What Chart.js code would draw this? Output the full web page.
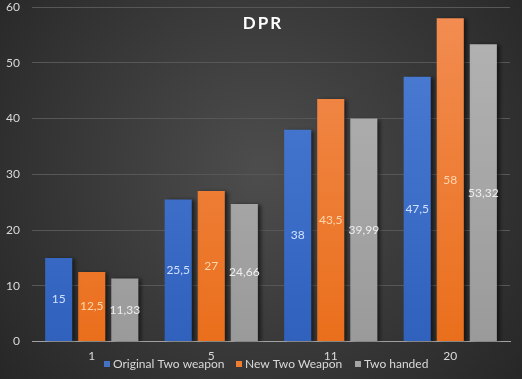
<!DOCTYPE html>
<html><head><meta charset="utf-8">
<script src="https://cdn.jsdelivr.net/npm/chart.js@4/dist/chart.umd.min.js"></script>
<style>html,body{margin:0;padding:0;background:#2a2a2a}#wrap{width:522px;height:379px;position:relative}</style>
</head><body><div id="wrap"><canvas id="c" width="522" height="379"></canvas></div>
<script>
const categories = ['1', '5', '11', '20'];
const originalTwoWeapon = [15, 25.5, 38, 47.5];
const newTwoWeapon = [12.5, 27, 43.5, 58];
const twoHanded = [11.33, 24.66, 39.99, 53.32];
const seriesNames = ['Original Two weapon', 'New Two Weapon', 'Two handed'];
const yTicks = [0, 10, 20, 30, 40, 50, 60];

const FONT = 'Lato, "Open Sans", sans-serif';
const palette = [
  {top:'#4f7fd6', bottom:'#2f61bd', key:'#4472c4', label:'#cfe0ff'},
  {top:'#f28d52', bottom:'#ea6f1c', key:'#ed7d31', label:'#ffd6ae'},
  {top:'#b4b4b4', bottom:'#9a9a9a', key:'#a5a5a5', label:'#eeeeee'}
];
function grad(i){
  return (ctx) => {
    const ch = ctx.chart, a = ch.chartArea;
    if (!a) return palette[i].key;
    const g = ch.ctx.createLinearGradient(0, a.top, 0, a.bottom);
    g.addColorStop(0, palette[i].top);
    g.addColorStop(1, palette[i].bottom);
    return g;
  };
}

const bgPlugin = {
  id:'bg',
  beforeDraw(chart){
    const c = chart.ctx, w = chart.width, h = chart.height;
    c.save();
    const g = c.createRadialGradient(w*0.5, h*0.45, 10, w*0.5, h*0.45, 340);
    g.addColorStop(0, '#4c4c4c');
    g.addColorStop(1, '#262626');
    c.fillStyle = g;
    c.fillRect(0,0,w,h);
    c.restore();
  },
  beforeDatasetDraw(chart){
    const c = chart.ctx;
    c.save();
    c.shadowColor = 'rgba(0,0,0,0.55)';
    c.shadowBlur = 4;
    c.shadowOffsetX = 3;
    c.shadowOffsetY = 1;
  },
  afterDatasetDraw(chart){
    chart.ctx.restore();
  },
  afterDatasetsDraw(chart){
    const c = chart.ctx;
    c.save();
    c.font = '12px ' + FONT;
    c.textAlign = 'center';
    c.textBaseline = 'middle';
    chart.data.datasets.forEach((ds, i) => {
      const meta = chart.getDatasetMeta(i);
      meta.data.forEach((bar, j) => {
        const v = ds.data[j];
        c.fillStyle = palette[i].label;
        c.fillText(String(v).replace('.', ','), bar.x, (bar.y + bar.base) / 2);
      });
    });
    c.restore();
  },
  afterDraw(chart){
    const c = chart.ctx;
    c.save();
    c.fillStyle = '#ffffff';
    c.font = 'bold 17px ' + FONT;
    c.textAlign = 'center';
    c.textBaseline = 'middle';
    if ('letterSpacing' in c) c.letterSpacing = '2px';
    c.fillText('DPR', 263, 24);
    if ('letterSpacing' in c) c.letterSpacing = '0px';
    c.font = '12px ' + FONT;
    c.textAlign = 'left';
    const xs = [104, 236, 355];
    chart.data.datasets.forEach((ds, i) => {
      c.fillStyle = palette[i].key;
      c.fillRect(xs[i], 361, 6, 6);
      c.fillStyle = '#d9d9d9';
      c.fillText(ds.label, xs[i] + 9, 364.5);
    });
    c.restore();
  }
};

new Chart(document.getElementById('c'), {
  type:'bar',
  data:{
    labels: categories,
    datasets:[
      {label: seriesNames[0], data: originalTwoWeapon, backgroundColor: grad(0)},
      {label: seriesNames[1], data: newTwoWeapon, backgroundColor: grad(1)},
      {label: seriesNames[2], data: twoHanded, backgroundColor: grad(2)}
    ]
  },
  options:{
    responsive:false,
    animation:false,
    devicePixelRatio:1,
    layout:{padding:{top:7, right:12, bottom:9, left:0}},
    datasets:{bar:{categoryPercentage:0.83, barPercentage:0.82}},
    plugins:{legend:{display:false}, title:{display:false}, tooltip:{enabled:false}},
    scales:{
      x:{
        grid:{display:false, drawTicks:false},
        border:{color:'#a0a0a0', width:1},
        ticks:{color:'#d9d9d9', font:{family:FONT, size:12}, padding:7}
      },
      y:{
        min:0, max:60,
        afterBuildTicks(s){ s.ticks = yTicks.map(v => ({value:v})); },
        afterFit(s){ s.width = 32; },
        grid:{color:'#575757', drawTicks:true, tickLength:12, tickColor:'rgba(0,0,0,0)'},
        border:{display:false},
        ticks:{color:'#d9d9d9', font:{family:FONT, size:12, lineHeight:0.2}, padding:0}
      }
    }
  },
  plugins:[bgPlugin]
});
</script></body></html>
